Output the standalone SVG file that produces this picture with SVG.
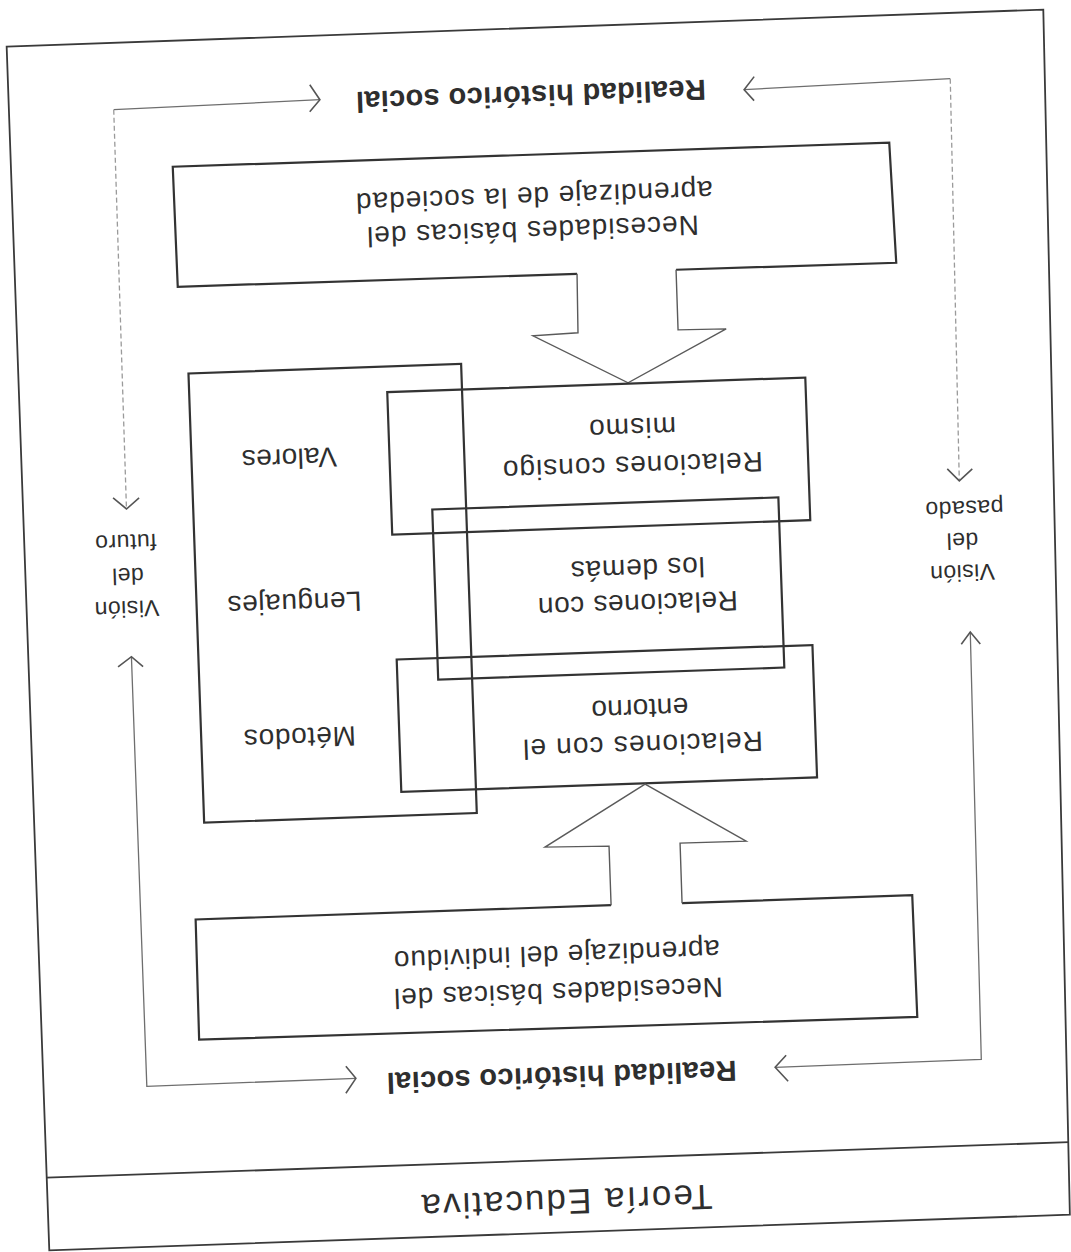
<svg xmlns="http://www.w3.org/2000/svg" width="1071" height="1252" viewBox="0 0 1071 1252">
<style>
.frame{fill:none;stroke:#3a3a3a;stroke-width:1.8}
.box{fill:none;stroke:#333;stroke-width:2.2;stroke-linejoin:miter}
.blk{fill:none;stroke:#5a5a5a;stroke-width:1.4;stroke-linejoin:miter}
.conn{fill:none;stroke:#6e6e6e;stroke-width:1.3}
.connf{fill:none;stroke:#9a9a9a;stroke-width:1.3;stroke-dasharray:5 3}
.head{fill:none;stroke:#555;stroke-width:1.6}
text{font-family:"Liberation Sans",Arial,Helvetica,sans-serif;fill:#2e2e2e;text-anchor:middle;dominant-baseline:central}
.t{font-size:28px}
.b{font-size:29px;font-weight:bold}
.s{font-size:23px;letter-spacing:0.5px}
.ti{font-size:35px}
</style>
<rect width="1071" height="1252" fill="#ffffff"/>
<g transform="rotate(-2 535 626)">
  <g id="frame">
    <path class="frame" d="M27.2,28.6 L1064.5,27.7 L1049,1233 L27.8,1233 Z"/>
    <path class="frame" d="M27.5,1160.3 L1050.5,1160.5"/>
    <text class="ti" x="546.9" y="1203" transform="rotate(180 546.9 1203)" textLength="291" lengthAdjust="spacing">Teoría Educativa</text>
  </g>
  <g id="realidad-top">
    <text class="b" x="549.4" y="96" transform="rotate(180 549.4 96)" textLength="350" lengthAdjust="spacing">Realidad histórico social</text>
  </g>
  <g id="realidad-bottom">
    <text class="b" x="546" y="1077.5" transform="rotate(180 546 1077.5)" textLength="350" lengthAdjust="spacing">Realidad histórico social</text>
  </g>
  <g id="vision-futuro">
    <text class="s" x="127.6" y="594.8" transform="rotate(180 127.6 594.8)">Visión</text>
    <text class="s" x="129.7" y="562" transform="rotate(180 129.7 562)">del</text>
    <text class="s" x="128.9" y="528.5" transform="rotate(180 128.9 528.5)">futuro</text>
  </g>
  <g id="vision-pasado">
    <text class="s" x="963.8" y="587.9" transform="rotate(180 963.8 587.9)">Visión</text>
    <text class="s" x="965" y="555.9" transform="rotate(180 965 555.9)">del</text>
    <text class="s" x="968.1" y="524" transform="rotate(180 968.1 524)">pasado</text>
  </g>
  <g id="necesidades-sociedad">
    <path class="box" d="M589.3,275.5 L189.8,274.5 L189,154.4 L905.9,155.4 L908.7,275.6 L688.4,274.9"/>
    <path class="blk" d="M589.3,275.5 L588.2,334.5 L543.1,335.9 L636.5,386.2 L736.4,335.7 L688.3,335 L688.4,274.9"/>
    <text class="t" x="546.8" y="231" transform="rotate(180 546.8 231)" textLength="332" lengthAdjust="spacing">Necesidades básicas del</text>
    <text class="t" x="549.5" y="197" transform="rotate(180 549.5 197)" textLength="357" lengthAdjust="spacing">aprendizaje de la sociedad</text>
  </g>
  <g id="valores-lenguajes-metodos">
    <rect class="box" x="197.5" y="361.5" width="272.8" height="449.4"/>
    <text class="t" x="295.3" y="449.9" transform="rotate(180 295.3 449.9)" textLength="95" lengthAdjust="spacing">Valores</text>
    <text class="t" x="295.6" y="595" transform="rotate(180 295.6 595)" textLength="134" lengthAdjust="spacing">Lenguajes</text>
    <text class="t" x="296.1" y="729.3" transform="rotate(180 296.1 729.3)" textLength="112" lengthAdjust="spacing">Métodos</text>
  </g>
  <g id="relaciones-consigo">
    <rect class="box" x="395.5" y="387.1" width="418.3" height="142.7"/>
    <text class="t" x="638.4" y="469.5" transform="rotate(180 638.4 469.5)" textLength="260" lengthAdjust="spacing">Relaciones consigo</text>
    <text class="t" x="639.5" y="431.5" transform="rotate(180 639.5 431.5)" textLength="87" lengthAdjust="spacing">mismo</text>
  </g>
  <g id="relaciones-demas">
    <rect class="box" x="436.4" y="506" width="346.3" height="170.2"/>
    <text class="t" x="638.6" y="607.6" transform="rotate(180 638.6 607.6)" textLength="200" lengthAdjust="spacing">Relaciones con</text>
    <text class="t" x="639.8" y="572.5" transform="rotate(180 639.8 572.5)" textLength="134" lengthAdjust="spacing">los demás</text>
  </g>
  <g id="relaciones-entorno">
    <rect class="box" x="395.6" y="654.7" width="416" height="132.4"/>
    <text class="t" x="638.8" y="748.8" transform="rotate(180 638.8 748.8)" textLength="240" lengthAdjust="spacing">Relaciones con el</text>
    <text class="t" x="636.9" y="712.5" transform="rotate(180 636.9 712.5)" textLength="97" lengthAdjust="spacing">entorno</text>
  </g>
  <g id="necesidades-individuo">
    <path class="box" d="M601.3,907.7 L185.6,907.5 L184.9,1027.6 L903.4,1030 L902.6,908.2 L672.3,908.1"/>
    <path class="blk" d="M601.3,907.7 L601.3,848.6 L537.3,847.3 L639.5,787.8 L738.5,848.4 L672.4,848.1 L672.3,908.1"/>
    <text class="t" x="545.7" y="993.3" transform="rotate(180 545.7 993.3)" textLength="329" lengthAdjust="spacing">Necesidades básicas del</text>
    <text class="t" x="545.5" y="955.8" transform="rotate(180 545.5 955.8)" textLength="326" lengthAdjust="spacing">aprendizaje del individuo</text>
  </g>
  <g id="connectors">
    <path class="conn" d="M338.4,92.5 L132,95.3"/>
    <path class="connf" d="M132,95.3 L130.8,494.8"/>
    <polyline class="head" points="328.8,77.2 338.4,92.5 327.8,104.2"/>
    <polyline class="head" points="117.8,483.3 130.8,494.8 143.8,484.2"/>
    <path class="conn" d="M762.7,97.3 L969.1,93.5"/>
    <path class="connf" d="M969.1,93.5 L964.1,495.8"/>
    <polyline class="head" points="773.2,84.6 762.7,97.3 772.3,108.6"/>
    <polyline class="head" points="952.5,483.4 964.1,495.8 977.5,484.3"/>
    <path class="conn" d="M969.8,647.2 L965.9,1074.6 L759.6,1075.4"/>
    <polyline class="head" points="960.4,659.2 969.8,647.2 979.4,659.6"/>
    <polyline class="head" points="771,1063.8 759.6,1075.4 772.1,1089.8"/>
    <path class="conn" d="M130.6,642.6 L131,1072.5 L340.2,1071.8"/>
    <polyline class="head" points="116.9,652.2 130.6,642.6 141.9,653"/>
    <polyline class="head" points="330.6,1059.4 340.2,1071.8 329.7,1086.4"/>
  </g>
</g>
</svg>
